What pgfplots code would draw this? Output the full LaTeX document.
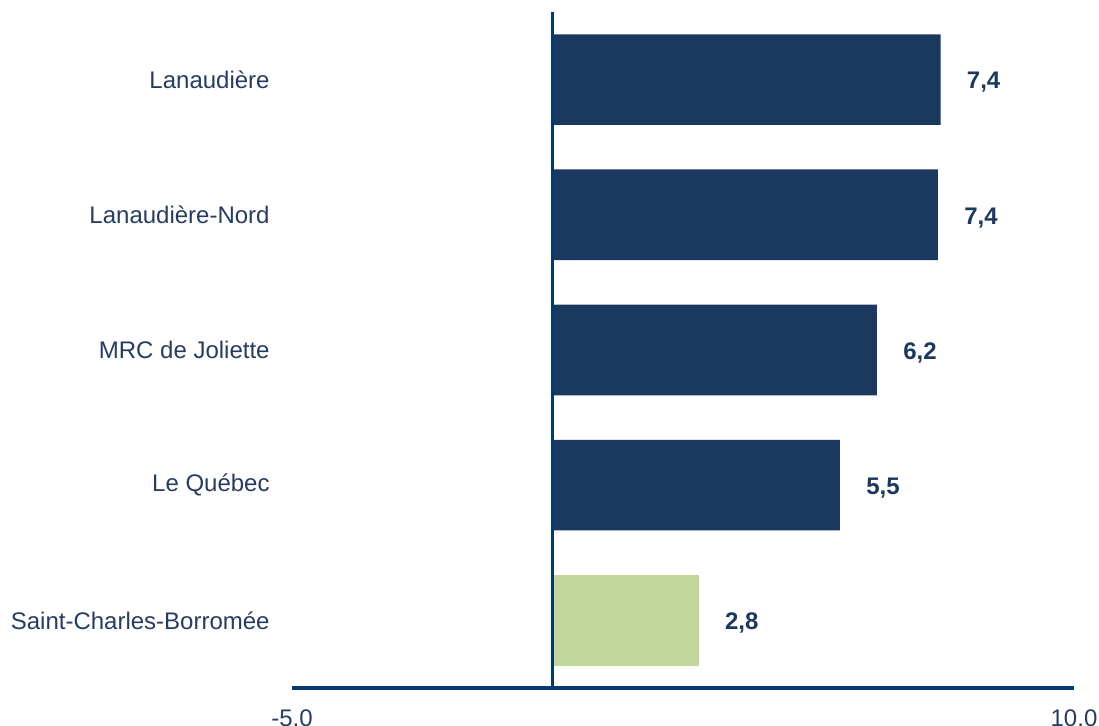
\documentclass[border=0pt]{standalone}
\usepackage{pgfplots}
\pgfplotsset{compat=1.18}
\usepackage{fontspec}
\setmainfont{Liberation Sans}
\definecolor{barnavy}{RGB}{27,56,94}
\definecolor{bargreen}{RGB}{196,215,155}
\definecolor{axisblue}{RGB}{0,58,112}
\definecolor{labelblue}{RGB}{38,60,98}

\begin{document}
\begin{tikzpicture}
\begin{axis}[
    at={(0,0)}, anchor=south west,
    scale only axis,
    width=391pt, height=338pt,
    xmin=-5, xmax=10, ymin=-0.5, ymax=4.5,
    xbar, bar width=0.67, bar shift=0pt,
    axis line style={draw=none},
    major tick length=0pt,
    xtick={-5,10},
    ytick={0,...,4},
    yticklabels={Saint-Charles-Borromée, Le Québec, MRC de Joliette, Lanaudière-Nord, Lanaudière},
    font=\fontsize{12}{14}\selectfont,
    ticklabel style={text=labelblue},
    xticklabel style={anchor=north, inner sep=0pt, yshift=-10.5pt,
        /pgf/number format/.cd, fixed, fixed zerofill, precision=1, assume math mode=true},
    yticklabel style={anchor=east, inner sep=0pt, xshift=-11pt},
    point meta=x,
    nodes near coords={\pgfmathprintnumber[fixed,fixed zerofill,precision=1,use comma,assume math mode=true]{\pgfplotspointmeta}},
    every node near coord/.append style={anchor=west, inner sep=0pt, xshift=13pt, yshift=-1.5pt,
        font=\fontsize{12}{14}\selectfont\bfseries, text=barnavy},
    clip=false,
]
\addplot[fill=barnavy, draw=none] coordinates {(7.44,4) (7.39,3) (6.22,2) (5.51,1)};
\addplot[fill=bargreen, draw=none] coordinates {(2.80,0)};
\draw[axisblue, line width=2pt] (rel axis cs:0,0) -- (rel axis cs:1,0);
\draw[axisblue, line width=1.5pt] (axis cs:0,-0.5) -- (axis cs:0,4.5);
\end{axis}
\pgfresetboundingbox
\path (-146pt,-19pt) rectangle (403.5pt,344pt);
\end{tikzpicture}
\end{document}
